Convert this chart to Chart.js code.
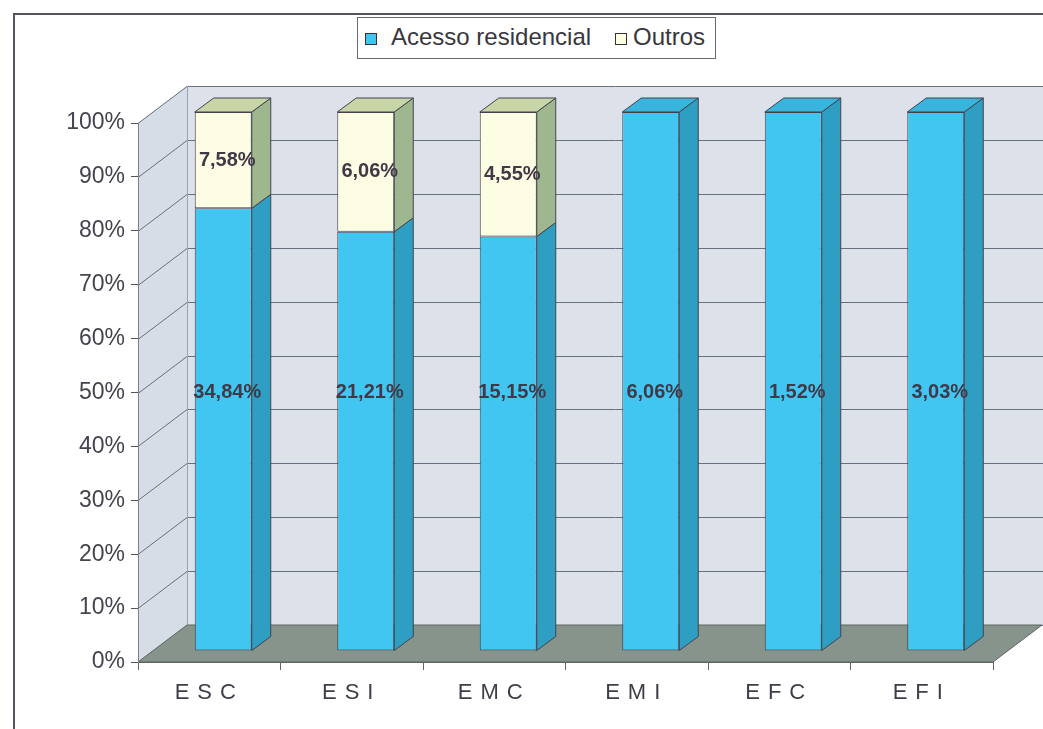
<!DOCTYPE html>
<html>
<head>
<meta charset="utf-8">
<title>Acesso residencial x Outros</title>
<script src="https://cdn.jsdelivr.net/npm/chart.js@4.4.0/dist/chart.umd.min.js"></script>
<style>
  html, body { margin:0; padding:0; background:#fff; }
  #wrap { position:relative; width:1043px; height:729px; overflow:hidden; font-family:"Liberation Sans", Arial, sans-serif; }
  #frame { position:absolute; left:13px; top:13px; width:1100px; height:800px; border-left:2px solid #55545c; border-top:2px solid #55545c; }
  #legend { position:absolute; left:357px; top:17px; width:357px; height:40px; border:1px solid #6a6a72; background:#fff; }
  .sw { position:absolute; top:32px; width:10px; height:10px; border:1px solid #333; }
  .lt { position:absolute; top:22px; font-size:24px; line-height:30px; color:#38363e; white-space:nowrap; }
  #chart { position:absolute; left:0; top:0; }
</style>
</head>
<body>
<div id="wrap">
  <div id="frame"></div>
  <canvas id="chart" width="1043" height="729"></canvas>
  <div id="legend"></div>
</div>
<script>
/* ---------- DATA ---------- */
const categories = ["ESC", "ESI", "EMC", "EMI", "EFC", "EFI"];
const acesso = [34.84, 21.21, 15.15, 6.06, 1.52, 3.03];   // % shown on the blue part
const outros = [7.58, 6.06, 4.55, 0, 0, 0];               // % shown on the cream part
const seriesNames = ["Acesso residencial", "Outros"];

// 100% stacked: each column is split by its share
const acessoShare = acesso.map((v, i) => v / (v + outros[i]) * 100);
const outrosShare = outros.map((v, i) => v / (acesso[i] + v) * 100);

/* ---------- STYLE ---------- */
const FRONT = ["#41c6f2", "#fdfde3"];
const SIDE  = ["#2e9fc3", "#9fb78f"];
const TOP   = ["#39b4dc", "#c8d5a6"];
const EDGE  = "#43434e";

const WALL_DX = 49, WALL_DY = -37;     // depth of the walls
const SHIFT_X = 14, SHIFT_Y = -11;     // bars sit a bit inside the depth
const BAR_DX = 19, BAR_DY = -14;       // depth of each column

/* ---------- legend (html) ---------- */
(function buildLegend(){
  const lg = document.getElementById("legend");
  const pos = [[7, 33], [257, 275]];   // swatch x, text x (relative to box)
  seriesNames.forEach((name, i) => {
    const s = document.createElement("div");
    s.className = "sw"; s.style.left = pos[i][0] + "px"; s.style.top = "15px"; s.style.background = FRONT[i];
    const t = document.createElement("div");
    t.className = "lt"; t.style.left = pos[i][1] + "px"; t.style.top = "4px"; t.textContent = name;
    lg.appendChild(s); lg.appendChild(t);
  });
})();

function fmt(v){ return v.toFixed(2).replace(".", ",") + "%"; }

/* ---------- 3D walls + grid ---------- */
const wallsPlugin = {
  id: "walls",
  beforeDraw(chart){
    const { ctx, chartArea: a, scales: { y } } = chart;
    const L = a.left, R = a.right, T = a.top, B = a.bottom;
    ctx.save();
    // back wall
    ctx.fillStyle = "#dde2ea";
    ctx.fillRect(L + WALL_DX, T + WALL_DY, R - L + 10, B - T);
    // left wall
    ctx.fillStyle = "#d6dde6";
    ctx.beginPath();
    ctx.moveTo(L, T); ctx.lineTo(L + WALL_DX, T + WALL_DY);
    ctx.lineTo(L + WALL_DX, B + WALL_DY); ctx.lineTo(L, B); ctx.closePath(); ctx.fill();
    // grid lines
    ctx.strokeStyle = "#66707f"; ctx.lineWidth = 1;
    y.ticks.forEach(t => {
      const py = Math.round(y.getPixelForValue(t.value)) + 0.5;
      ctx.beginPath();
      ctx.moveTo(L, py); ctx.lineTo(L + WALL_DX, py + WALL_DY); ctx.lineTo(R + WALL_DX + 10, py + WALL_DY);
      ctx.stroke();
    });
    // wall edges
    ctx.strokeStyle = "#9aa3b0";
    ctx.beginPath();
    ctx.moveTo(L + WALL_DX + 0.5, T + WALL_DY); ctx.lineTo(L + WALL_DX + 0.5, B + WALL_DY);
    ctx.stroke();
    // floor
    ctx.fillStyle = "#87948c";
    ctx.strokeStyle = "#5e6660";
    ctx.beginPath();
    ctx.moveTo(L, B); ctx.lineTo(R, B); ctx.lineTo(R + WALL_DX, B + WALL_DY); ctx.lineTo(L + WALL_DX, B + WALL_DY);
    ctx.closePath(); ctx.fill(); ctx.stroke();
    ctx.restore();
  }
};

/* ---------- 3D columns ---------- */
const columnsPlugin = {
  id: "columns",
  beforeDatasetsDraw(chart){
    chart.ctx.save();
    chart.ctx.translate(SHIFT_X, SHIFT_Y);
  },
  afterDatasetsDraw(chart){
    const ctx = chart.ctx;
    const metas = chart.data.datasets.map((d, i) => chart.getDatasetMeta(i));
    ctx.lineWidth = 1; ctx.strokeStyle = EDGE;
    categories.forEach((c, idx) => {
      let topDs = -1;
      metas.forEach((m, di) => {
        const el = m.data[idx];
        const p = el.getProps(["x", "y", "base", "width"], true);
        if (Math.abs(p.base - p.y) < 0.5) return;
        topDs = di;
        const xr = p.x + p.width / 2;
        ctx.fillStyle = SIDE[di];
        ctx.beginPath();
        ctx.moveTo(xr, p.y); ctx.lineTo(xr + BAR_DX, p.y + BAR_DY);
        ctx.lineTo(xr + BAR_DX, p.base + BAR_DY); ctx.lineTo(xr, p.base);
        ctx.closePath(); ctx.fill(); ctx.stroke();
      });
      if (topDs >= 0) {
        const p = metas[topDs].data[idx].getProps(["x", "y", "width"], true);
        const xl = p.x - p.width / 2, xr = p.x + p.width / 2;
        ctx.fillStyle = TOP[topDs];
        ctx.beginPath();
        ctx.moveTo(xl, p.y); ctx.lineTo(xr, p.y);
        ctx.lineTo(xr + BAR_DX, p.y + BAR_DY); ctx.lineTo(xl + BAR_DX, p.y + BAR_DY);
        ctx.closePath(); ctx.fill(); ctx.stroke();
      }
    });
    // value labels
    const raw = [acesso, outros];
    ctx.font = "bold 20px 'Liberation Sans', Arial, sans-serif";
    ctx.fillStyle = "#413947";
    ctx.textAlign = "center"; ctx.textBaseline = "middle";
    metas.forEach((m, di) => {
      m.data.forEach((el, idx) => {
        const v = raw[di][idx];
        if (!v) return;
        const p = el.getProps(["x", "y", "base"], true);
        const ly = di === 0 ? chart.scales.y.getPixelForValue(48) : (p.y + p.base) / 2;
        ctx.fillText(fmt(v), p.x + 4, ly);
      });
    });
    ctx.restore();
  }
};

/* ---------- letter-spaced category labels ---------- */
const spacingPlugin = {
  id: "spacing",
  afterUpdate(chart){
    const xs = chart.scales.x;
    if (xs._spaced) return;
    const orig = xs.drawLabels;
    xs.drawLabels = function(area){
      this.ctx.save();
      this.ctx.letterSpacing = "8px";
      orig.call(this, area);
      this.ctx.restore();
    };
    xs._spaced = true;
  }
};

const chart = new Chart(document.getElementById("chart").getContext("2d"), {
  type: "bar",
  data: {
    labels: categories,
    datasets: [
      { label: seriesNames[0], data: acessoShare, backgroundColor: FRONT[0], borderColor: EDGE, borderWidth: 1, borderSkipped: false, clip: false },
      { label: seriesNames[1], data: outrosShare, backgroundColor: FRONT[1], borderColor: EDGE, borderWidth: 1, borderSkipped: false, clip: false }
    ]
  },
  options: {
    responsive: false,
    animation: false,
    devicePixelRatio: 1,
    layout: { padding: { top: 123, right: 50, bottom: 0, left: 0 } },
    datasets: { bar: { barPercentage: 0.4, categoryPercentage: 1.0 } },
    plugins: { legend: { display: false }, tooltip: { enabled: false } },
    scales: {
      x: {
        stacked: true,
        grid: { drawOnChartArea: false, drawTicks: true, tickLength: 8, color: "#5e6660" },
        border: { display: true, color: "#5e6660" },
        ticks: { color: "#3f3d47", padding: 10, font: { family: "'Liberation Sans', Arial, sans-serif", size: 22 } },
        afterFit(s){ s.height = 729 - 662; }
      },
      y: {
        stacked: true,
        min: 0, max: 100,
        grid: { drawOnChartArea: false, drawTicks: true, tickLength: 7, color: "#55545c" },
        border: { display: true, color: "#7a8290" },
        ticks: { stepSize: 10, padding: 6, color: "#45434d",
                 font: { family: "'Liberation Sans', Arial, sans-serif", size: 23 },
                 callback: v => v + "%" },
        afterFit(s){ s.width = 138; }
      }
    }
  },
  plugins: [wallsPlugin, columnsPlugin, spacingPlugin]
});
</script>
</body>
</html>
